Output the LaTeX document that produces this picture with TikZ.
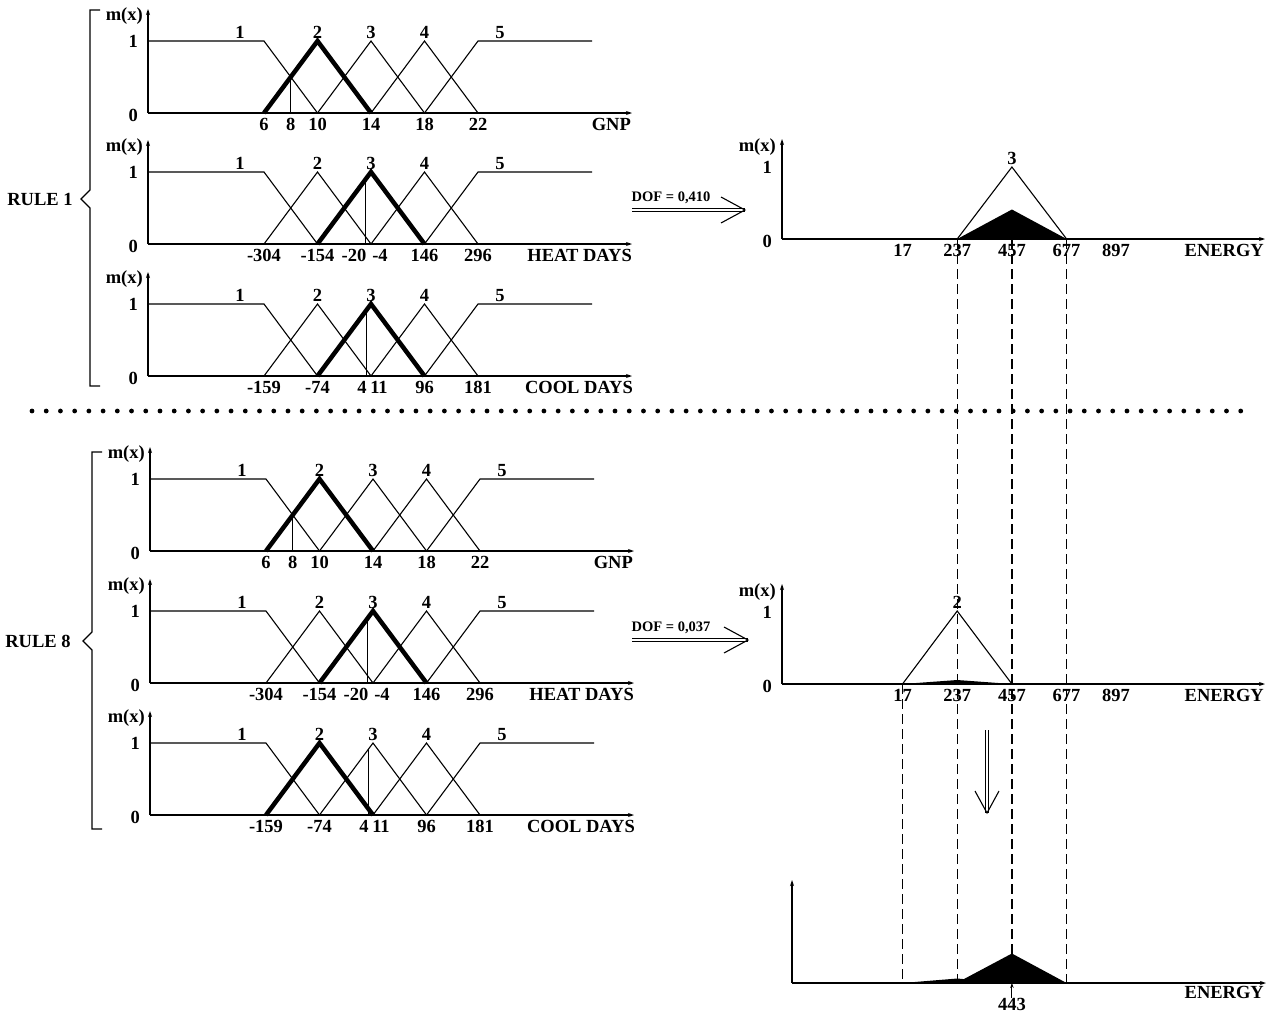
\documentclass[tikz,border=0pt]{standalone}
\usepackage{fontspec}
\setmainfont{Liberation Serif}
\usepackage{tikz}
\usetikzlibrary{arrows.meta}

% axes and the five membership sets of an input variable
\newcommand{\mfsets}{%
  \draw[axisline] (0,0) -- (484,0);
  \draw[axisline] (0,0) -- (0,-104);
  \draw[mf] (0,-72) -- (116,-72) -- (169.5,0);
  \draw[mf] (116,0) -- (169.5,-72) -- (223,0);
  \draw[mf] (169.5,0) -- (223,-72) -- (276.5,0);
  \draw[mf] (223,0) -- (276.5,-72) -- (330,0);
  \draw[mf] (276.5,0) -- (330,-72) -- (444,-72);
  \foreach \sx/\sl in {92/1, 169.5/2, 223/3, 276.5/4, 352/5}
    \node[setlab] (s\sl) at (\sx,-72) {\sl};
  \node[ylab] (mx) at (-5,-97) {m(x)};
  \node[ylab] (one) at (-10,-72) {1};
  \node[ylab] (zero) at (-10,2) {0};
}

% axes of an output variable
\newcommand{\outaxes}{%
  \draw[axisline] (0,0) -- (483,0);
  \draw[axisline] (0,0) -- (0,-100);
  \node[ylab] (mx) at (-6,-92) {m(x)};
  \node[ylab] (one) at (-10,-72) {1};
  \node[ylab] (zero) at (-10,2) {0};
  \foreach \tx/\tl in {120.5/17, 175.2/237, 229.9/457, 284.6/677, 334/897}
    \node[ticklab] (t\tl) at (\tx,5) {\tl};
  \node[varlab] (var) at (482,5) {ENERGY};
  \foreach \tx [count=\i from 0] in {120.5, 175.2, 229.9, 284.6}
    \coordinate (q\i) at (\tx,0);
}

\begin{document}
\begin{tikzpicture}[x=1pt, y=-1pt,
    every node/.style={font=\bfseries\fontsize{18.5}{20}\selectfont, inner sep=0pt},
    axisline/.style={line width=1.3pt, -{Stealth[length=6pt, width=4pt]}},
    mf/.style={line width=1.1pt},
    active/.style={line width=4.5pt},
    cut/.style={line width=1pt},
    ticklab/.style={anchor=north},
    setlab/.style={anchor=south, yshift=2pt},
    ylab/.style={anchor=east},
    varlab/.style={anchor=north east},
    guide/.style={line width=1.2pt, dash pattern=on 10pt off 5pt},
    dofline/.style={double, double distance=2.8pt, line width=0.8pt},
    dofhead/.style={line width=1.1pt},
    doflab/.style={font=\bfseries\fontsize{14.5}{16}\selectfont},
    rulebrace/.style={line width=1.1pt},
]
\fill[white] (0,0) rectangle (1273,1017);
\useasboundingbox (0,0) rectangle (1273,1017);

% Rule 1
\draw[rulebrace] (100,10) -- (90,10) -- (90,190) -- (81,199) -- (90,208) -- (90,386) -- (100,386);
\node (rule1) at (40,199) {RULE 1};

\begin{scope}[shift={(148,113)}, name prefix=r1g-]
  \mfsets
  \draw[active] (116,0) -- (169.5,-72) -- (223,0);
  \draw[cut] (142.75,0) -- (142.75,-36);
  \foreach \tx/\tl in {116/6, 142.75/8, 169.5/10, 223/14, 276.5/18, 330/22}
    \node[ticklab] (t\tl) at (\tx,5) {\tl};
  \node[varlab] (var) at (483,5) {GNP};
\end{scope}

\begin{scope}[shift={(148,244)}, name prefix=r1h-]
  \mfsets
  \draw[active] (169.5,0) -- (223,-72) -- (276.5,0);
  \draw[cut] (217.3,0) -- (217.3,-64.3);
  \foreach \tx/\tl in {116/-304, 169.5/-154, 206/-20, 232/-4, 276.5/146, 330/296}
    \node[ticklab] (t\tl) at (\tx,5) {\tl};
  \node[varlab] (var) at (484,5) {HEAT DAYS};
\end{scope}

\begin{scope}[shift={(148,376)}, name prefix=r1c-]
  \mfsets
  \draw[active] (169.5,0) -- (223,-72) -- (276.5,0);
  \draw[cut] (218.6,0) -- (218.6,-66.1);
  \foreach \tx/\tl in {116/-159, 169.5/-74, 214/4, 231/11, 276.5/96, 330/181}
    \node[ticklab] (t\tl) at (\tx,5) {\tl};
  \node[varlab] (var) at (485,5) {COOL DAYS};
\end{scope}

\coordinate (dof1-a) at (632,210);
\coordinate (dof1-b) at (745,210);
\draw[dofline] (dof1-a) -- (dof1-b);
\draw[dofhead] (dof1-b) ++(-24,-13) -- (dof1-b) -- ++(-24,13);
\node[doflab] (dof1) at (671,198) {DOF = 0,410};

\begin{scope}[shift={(782,239)}, name prefix=o1-]
  \outaxes
  \fill (q1) -- (229.9,-29.5) -- (q3) -- cycle;
  \draw[mf] (q1) -- (229.9,-72) -- (q3);
  \node[setlab] (s3) at (229.9,-72) {3};
\end{scope}

% separator
\foreach \i in {0,...,85}
  \fill (32+14.22*\i,411) circle (2.4pt);

% Rule 8
\draw[rulebrace] (102,452) -- (92,452) -- (92,632) -- (83,641) -- (92,650) -- (92,829) -- (102,829);
\node (rule8) at (38,641) {RULE 8};

\begin{scope}[shift={(150,551)}, name prefix=r8g-]
  \mfsets
  \draw[active] (116,0) -- (169.5,-72) -- (223,0);
  \draw[cut] (142.75,0) -- (142.75,-36);
  \foreach \tx/\tl in {116/6, 142.75/8, 169.5/10, 223/14, 276.5/18, 330/22}
    \node[ticklab] (t\tl) at (\tx,5) {\tl};
  \node[varlab] (var) at (483,5) {GNP};
\end{scope}

\begin{scope}[shift={(150,683)}, name prefix=r8h-]
  \mfsets
  \draw[active] (169.5,0) -- (223,-72) -- (276.5,0);
  \draw[cut] (217.3,0) -- (217.3,-64.3);
  \foreach \tx/\tl in {116/-304, 169.5/-154, 206/-20, 232/-4, 276.5/146, 330/296}
    \node[ticklab] (t\tl) at (\tx,5) {\tl};
  \node[varlab] (var) at (484,5) {HEAT DAYS};
\end{scope}

\begin{scope}[shift={(150,815)}, name prefix=r8c-]
  \mfsets
  \draw[active] (116,0) -- (169.5,-72) -- (223,0);
  \draw[cut] (218.6,0) -- (218.6,-66.1);
  \foreach \tx/\tl in {116/-159, 169.5/-74, 214/4, 231/11, 276.5/96, 330/181}
    \node[ticklab] (t\tl) at (\tx,5) {\tl};
  \node[varlab] (var) at (485,5) {COOL DAYS};
\end{scope}

\coordinate (dof8-a) at (632,640);
\coordinate (dof8-b) at (748,640);
\draw[dofline] (dof8-a) -- (dof8-b);
\draw[dofhead] (dof8-b) ++(-24,-13) -- (dof8-b) -- ++(-24,13);
\node[doflab] (dof8) at (671,628) {DOF = 0,037};

\begin{scope}[shift={(782,684)}, name prefix=o8-]
  \outaxes
  \fill (q0) -- (175.2,-4) -- (q2) -- cycle;
  \draw[mf] (q0) -- (175.2,-73) -- (q2);
  \node[setlab] (s2) at (175.2,-73) {2};
\end{scope}

% aggregation
\coordinate (dn-a) at (987,730);
\coordinate (dn-b) at (987,813);
\draw[dofline] (dn-a) -- (dn-b);
\draw[dofhead] (dn-b) ++(-12,-22) -- (dn-b) -- ++(12,-22);

\begin{scope}[shift={(782,983)}, name prefix=fin-]
  \draw[axisline] (10,0) -- (484,0);
  \draw[axisline] (10,0) -- (10,-103);
  \foreach \tx [count=\i from 0] in {120.5, 175.2, 229.9, 284.6}
    \coordinate (q\i) at (\tx,0);
  \fill (q0) -- (175.2,-4.5) -- (181.8,-3.9) -- (229.9,-29.5) -- (q3) -- cycle;
  \node[varlab] (var) at (482,3) {ENERGY};
  \node[ticklab] (cog) at (229.9,15) {443};
  \draw[line width=1pt, -{Stealth[length=5pt, width=3.5pt]}] (cog.north) -- (q2);
\end{scope}

% projection lines
\draw[guide] (o1-q1) -- (fin-q1);
\draw[guide] (o1-q2) -- (fin-q2);
\draw[guide] (o1-q3) -- (fin-q3);
\draw[guide] (o8-q0) -- (fin-q0);

\end{tikzpicture}
\end{document}
